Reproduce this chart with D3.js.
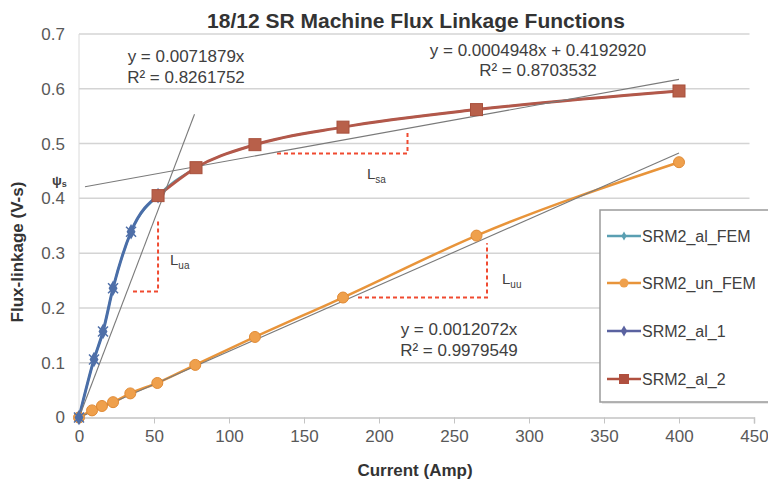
<!DOCTYPE html>
<html><head><meta charset="utf-8">
<script src="https://cdn.jsdelivr.net/npm/d3@7"></script>
<style>
html,body{margin:0;padding:0;background:#fff;}
svg{display:block;font-family:"Liberation Sans",Arial,sans-serif;}
</style></head>
<body>
<script>
// ---- data ----
const xTicks = [0,50,100,150,200,250,300,350,400,450];
const yTicks = [0,0.1,0.2,0.3,0.4,0.5,0.6,0.7];
const seriesNames = ["SRM2_al_FEM","SRM2_un_FEM","SRM2_al_1","SRM2_al_2"];
const currentAlFEM = [0,10,16,22.7,34.7,52.7,78,117.3,176,265,400];
const fluxAlFEM    = [0,0.106,0.157,0.236,0.339,0.405,0.456,0.498,0.530,0.562,0.596];
const currentUnFEM = [0,8.7,15.3,22.7,34.2,52.2,77.5,117.3,176,265,400];
const fluxUnFEM    = [0,0.013,0.021,0.028,0.044,0.063,0.096,0.147,0.219,0.332,0.466];
const currentAl1   = [0,10,16,22.7,34.7,52.7];
const fluxAl1      = [0,0.106,0.157,0.236,0.339,0.405];
const currentAl2   = [52.7,78,117.3,176,265,400];
const fluxAl2      = [0.405,0.456,0.498,0.530,0.562,0.596];
// trendlines: slope, intercept, x range
const trendSlopes     = [0.0071879, 0.0004948, 0.0012072];
const trendIntercepts = [0, 0.4192920, 0];
const trendXStart     = [0, 4, 0];
const trendXEnd       = [77, 400, 400];
const trendEqs  = ["y = 0.0071879x","y = 0.0004948x + 0.4192920","y = 0.0012072x"];
const trendR2   = ["R² = 0.8261752","R² = 0.8703532","R² = 0.9979549"];
// inductance construction (dashed) corner paths in data units
const dashAX = [36,52.7,52.7]; const dashAY = [0.230,0.230,0.36];
const dashBX = [132,219,219];  const dashBY = [0.482,0.482,0.524];
const dashCX = [186,272,272];  const dashCY = [0.219,0.219,0.318];

const W=768,H=481;
const svg=d3.select("body").append("svg").attr("width",W).attr("height",H);
const x=d3.scaleLinear().domain([0,450]).range([79,754]);
const y=d3.scaleLinear().domain([0,0.7]).range([417.5,34]);

// gridlines
svg.append("g").selectAll("line").data(yTicks.filter(d=>d>0)).join("line")
  .attr("x1",x(0)).attr("x2",x(447)).attr("y1",d=>y(d)).attr("y2",d=>y(d))
  .attr("stroke","#d4d4d4").attr("stroke-width",1.5);
svg.append("line").attr("x1",x(0)).attr("x2",x(0)).attr("y1",y(0.7)).attr("y2",y(0))
  .attr("stroke","#dadada").attr("stroke-width",1);

// x axis
const xa=svg.append("g").attr("transform",`translate(0,${y(0)})`)
  .call(d3.axisBottom(x).tickValues(xTicks).tickSize(6).tickPadding(6).tickFormat(d3.format("d")));
xa.select(".domain").attr("stroke","#c4c4c4").attr("stroke-width",1.5);
xa.selectAll(".tick line").attr("stroke","#c4c4c4").attr("stroke-width",1);
xa.selectAll("text").attr("fill","#595959").style("font-size","17px").style("font-family","Liberation Sans, Arial");
// y axis
const ya=svg.append("g").attr("transform",`translate(${x(0)},0)`)
  .call(d3.axisLeft(y).tickValues(yTicks).tickSize(0).tickPadding(14).tickFormat(d=>d===0?"0":d3.format(".1f")(d)));
ya.select(".domain").remove();
ya.selectAll("text").attr("fill","#595959").style("font-size","17px").style("font-family","Liberation Sans, Arial");

// title & axis titles
svg.append("text").attr("x",416).attr("y",28).attr("text-anchor","middle")
  .attr("font-weight","bold").attr("font-size",21).attr("fill","#333").text("18/12 SR Machine Flux Linkage Functions");
svg.append("text").attr("x",415).attr("y",476).attr("text-anchor","middle")
  .attr("font-weight","bold").attr("font-size",17).attr("fill","#333").text("Current (Amp)");
svg.append("text").attr("transform","translate(23,252) rotate(-90)").attr("text-anchor","middle")
  .attr("font-weight","bold").attr("font-size",17).attr("fill","#333").text("Flux-linkage (V-s)");

// dashed constructions
const dl=d3.line().x(d=>x(d[0])).y(d=>y(d[1]));
[[dashAX,dashAY],[dashBX,dashBY],[dashCX,dashCY]].forEach(([xs,ys])=>{
  svg.append("path").attr("d",dl(xs.map((v,i)=>[v,ys[i]]))).attr("fill","none")
    .attr("stroke","#f04a30").attr("stroke-width",2).attr("stroke-dasharray","4,3");
});

// series lines
const line=d3.line().x(d=>x(d[0])).y(d=>y(d[1])).curve(d3.curveMonotoneX);
const zip=(a,b)=>a.map((v,i)=>[v,b[i]]);
const dFEM=zip(currentAlFEM,fluxAlFEM), dUn=zip(currentUnFEM,fluxUnFEM),
      d1=zip(currentAl1,fluxAl1), d2=zip(currentAl2,fluxAl2);
svg.append("path").attr("d",line(dFEM)).attr("fill","none").attr("stroke","#5aa0b5").attr("stroke-width",2);
svg.append("path").attr("d",line(dUn)).attr("fill","none").attr("stroke","#e8943a").attr("stroke-width",2.5);
svg.append("path").attr("d",line(d1)).attr("fill","none").attr("stroke","#4a6ea8").attr("stroke-width",3);
svg.append("path").attr("d",line(d2)).attr("fill","none").attr("stroke","#b3584a").attr("stroke-width",3);

// trendlines
trendSlopes.forEach((m,i)=>{
  const b=trendIntercepts[i];
  svg.append("line").attr("x1",x(trendXStart[i])).attr("y1",y(m*trendXStart[i]+b))
    .attr("x2",x(trendXEnd[i])).attr("y2",y(m*trendXEnd[i]+b))
    .attr("stroke","#7a7a7a").attr("stroke-width",1.1);
});

// markers
svg.append("g").selectAll("circle").data(dUn).join("circle")
  .attr("cx",d=>x(d[0])).attr("cy",d=>y(d[1])).attr("r",5.5)
  .attr("fill","#efa04c").attr("stroke","#e08a35").attr("stroke-width",1);
const dia=d3.symbol().type(d3.symbolDiamond).size(70);
const g1=svg.append("g").selectAll("g").data(d1).join("g").attr("transform",d=>`translate(${x(d[0])},${y(d[1])})`);
g1.append("path").attr("d",dia).attr("fill","#4f6fa8");
g1.append("path").attr("d","M-5,-5L5,5M-5,5L5,-5").attr("stroke","#4f6fa8").attr("stroke-width",1.5);
svg.append("g").selectAll("rect").data(d2).join("rect")
  .attr("x",d=>x(d[0])-6).attr("y",d=>y(d[1])-6).attr("width",12).attr("height",12)
  .attr("fill","#b8604a").attr("stroke","#a8503c").attr("stroke-width",1);

// equation labels
const eqPos=[[186,62,83],[538,56,76],[459,335,356]];
trendEqs.forEach((t,i)=>{
  svg.append("text").attr("x",eqPos[i][0]).attr("y",eqPos[i][1]).attr("text-anchor","middle")
    .attr("font-size",17).attr("fill","#404040").text(t);
  svg.append("text").attr("x",eqPos[i][0]).attr("y",eqPos[i][2]).attr("text-anchor","middle")
    .attr("font-size",17).attr("fill","#404040").text(trendR2[i]);
});

// inductance labels
const lab=[[170,265,"ua"],[367,179,"sa"],[502,284,"uu"]];
lab.forEach(([lx,ly,sub])=>{
  const t=svg.append("text").attr("x",lx).attr("y",ly).attr("font-size",15).attr("fill","#404040");
  t.append("tspan").text("L");
  t.append("tspan").attr("font-size",10).attr("dy",4).text(sub);
});
// psi_s
const ps=svg.append("text").attr("x",52).attr("y",185).attr("font-size",13).attr("fill","#404040").attr("font-weight","bold");
ps.append("tspan").text("ψ");
ps.append("tspan").attr("font-size",9).attr("dy",2).text("s");

// legend
const lg=svg.append("g");
lg.append("rect").attr("x",602).attr("y",212).attr("width",180).attr("height",192).attr("fill","#e8e8e8");
lg.append("rect").attr("x",600).attr("y",210).attr("width",180).attr("height",192)
  .attr("fill","#fff").attr("stroke","#9a9a9a").attr("stroke-width",1.5);
const legColors=["#5a9fb2","#e8943a","#5a62a0","#b0503f"];
const legY=[236,283,331,379];
seriesNames.forEach((n,i)=>{
  const yy=legY[i];
  lg.append("line").attr("x1",607).attr("x2",641).attr("y1",yy).attr("y2",yy).attr("stroke",legColors[i]).attr("stroke-width",2.5);
  if(i===1) lg.append("circle").attr("cx",624).attr("cy",yy).attr("r",4.5).attr("fill","#efa04c");
  if(i===2) lg.append("path").attr("transform",`translate(624,${yy})`).attr("d",d3.symbol().type(d3.symbolDiamond).size(36)).attr("fill","#5a62a0");
  if(i===3) lg.append("rect").attr("x",619).attr("y",yy-5).attr("width",10).attr("height",10).attr("fill","#b0503f");
  if(i===0) lg.append("path").attr("transform",`translate(624,${yy})`).attr("d",d3.symbol().type(d3.symbolDiamond).size(24)).attr("fill","#5a9fb2");
  lg.append("text").attr("x",642).attr("y",yy+6).attr("font-size",16).attr("fill","#404040").text(n);
});
</script>
</body></html>
